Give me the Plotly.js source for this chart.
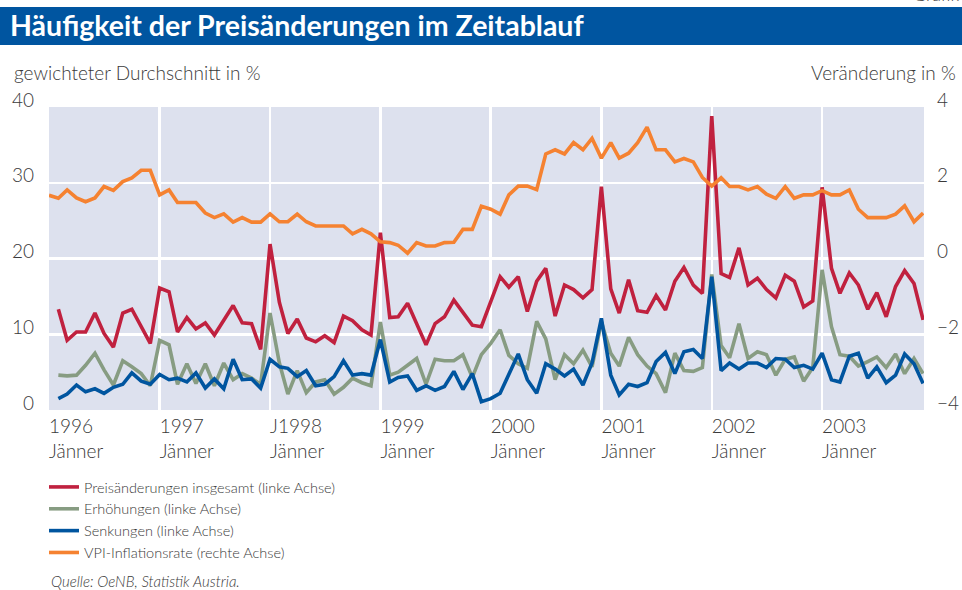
<!DOCTYPE html>
<html>
<head>
<meta charset="utf-8">
<script src="https://cdn.plot.ly/plotly-3.0.1.min.js"></script>
<style>
html,body{margin:0;padding:0;background:#fff;}
#chart{width:962px;height:590px;}
</style>
</head>
<body>
<div id="chart"></div>
<script>
// Monthly series, January 1996 (index 0) to December 2003 (index 95)
var startYear = 1996;
var nMonths = 96;

// VPI-Inflationsrate (rechte Achse), Jan 1996 - Dez 2003
var vpiInflation = [
  1.67, 1.59, 1.81, 1.60, 1.50, 1.60, 1.90, 1.80, 2.03, 2.13, 2.33, 2.33,
  1.68, 1.81, 1.48, 1.48, 1.48, 1.20, 1.08, 1.18, 0.96, 1.08, 0.96, 0.96,
  1.18, 0.97, 0.97, 1.17, 0.97, 0.86, 0.86, 0.86, 0.86, 0.65, 0.77, 0.65,
  0.44, 0.42, 0.35, 0.14, 0.42, 0.33, 0.33, 0.42, 0.43, 0.77, 0.77, 1.38,
  1.30, 1.17, 1.68, 1.91, 1.91, 1.82, 2.76, 2.87, 2.76, 3.06, 2.87, 3.17,
  2.65, 3.06, 2.65, 2.78, 3.06, 3.47, 2.87, 2.87, 2.55, 2.64, 2.55, 2.14,
  1.91, 2.13, 1.90, 1.90, 1.81, 1.90, 1.70, 1.59, 1.90, 1.59, 1.68, 1.68,
  1.79, 1.68, 1.68, 1.81, 1.30, 1.08, 1.08, 1.08, 1.17, 1.39, 0.97, 1.20
];

// Preisänderungen insgesamt (linke Achse), from Feb 1996
var preisInsgesamt = [
  null, 13.3, 9.2, 10.3, 10.3, 12.8, 10.1, 8.3, 12.8, 13.3, 11.0, 8.8,
  16.1, 15.6, 10.3, 12.2, 10.7, 11.5, 9.9, 11.8, 13.8, 11.5, 11.4, 8.0,
  21.9, 14.2, 10.1, 12.0, 9.5, 9.0, 9.8, 8.9, 12.4, 11.8, 10.6, 9.9,
  23.4, 12.2, 12.3, 14.1, 11.5, 8.6, 11.4, 12.3, 14.5, 12.9, 11.2, 11.0,
  14.3, 17.6, 16.2, 17.6, 13.0, 17.0, 18.7, 12.4, 16.5, 15.9, 14.8, 15.9,
  29.5, 16.0, 12.8, 17.2, 13.1, 12.9, 15.1, 13.2, 17.0, 18.8, 16.5, 15.4,
  38.8, 18.0, 17.5, 21.4, 16.5, 17.4, 15.9, 14.8, 17.8, 17.0, 13.6, 14.4,
  29.4, 18.7, 15.4, 18.1, 16.5, 13.3, 15.5, 12.3, 16.3, 18.4, 16.7, 11.9
];

// Erhöhungen (linke Achse)
var erhoehungen = [
  null, 4.6, 4.5, 4.6, 5.9, 7.5, 5.3, 3.3, 6.5, 5.7, 4.8, 3.2,
  9.2, 8.6, 3.4, 6.1, 3.5, 6.1, 3.2, 6.2, 4.0, 4.8, 4.2, 3.4,
  12.8, 6.2, 2.1, 5.2, 2.3, 3.7, 4.0, 2.1, 3.0, 4.2, 3.6, 3.2,
  11.6, 4.6, 5.0, 5.9, 6.8, 3.4, 6.7, 6.5, 6.5, 7.3, 4.3, 7.3,
  8.8, 10.6, 7.2, 6.1, 5.5, 11.7, 9.4, 4.0, 7.3, 6.1, 7.9, 5.7,
  11.6, 7.5, 5.8, 9.6, 7.3, 5.8, 4.8, 2.3, 7.5, 5.2, 5.1, 5.6,
  17.9, 8.5, 6.9, 11.4, 6.8, 7.7, 7.3, 4.6, 6.7, 7.0, 3.8, 5.6,
  18.5, 11.0, 7.3, 7.1, 5.8, 6.4, 7.0, 5.6, 7.4, 4.8, 6.8, 4.8
];

// Senkungen (linke Achse)
var senkungen = [
  null, 1.5, 2.1, 3.3, 2.4, 2.8, 2.2, 3.0, 3.4, 4.9, 3.8, 3.4,
  4.7, 4.0, 4.2, 3.7, 4.9, 2.9, 4.1, 2.8, 6.7, 4.0, 4.1, 2.9,
  6.7, 5.7, 5.5, 4.4, 5.2, 3.2, 3.4, 4.4, 6.5, 4.6, 4.8, 4.6,
  9.3, 3.7, 4.3, 4.5, 2.6, 3.2, 2.6, 3.1, 5.1, 2.7, 4.8, 1.1,
  1.5, 2.2, 4.8, 7.4, 4.0, 2.2, 6.1, 5.4, 4.5, 5.4, 3.3, 6.2,
  12.1, 4.6, 2.0, 3.4, 3.1, 3.6, 6.4, 7.6, 4.8, 7.7, 8.0, 6.8,
  17.6, 5.2, 6.2, 5.4, 6.2, 6.2, 5.6, 6.8, 6.7, 5.6, 5.9, 5.4,
  7.5, 4.0, 3.7, 7.1, 7.5, 4.2, 5.7, 3.6, 4.6, 7.4, 6.1, 3.5
];

var tickYears = ["1996", "1997", "J1998", "1999", "2000", "2001", "2002", "2003"];
var tickMonth = "Jänner";
var seriesNames = [
  "Preisänderungen insgesamt (linke Achse)",
  "Erhöhungen (linke Achse)",
  "Senkungen (linke Achse)",
  "VPI-Inflationsrate (rechte Achse)"
];

function pad(n){return n < 10 ? "0" + n : "" + n;}
var months = [];
for (var i = 0; i < nMonths; i++) {
  var y = startYear + Math.floor(i / 12);
  months.push(y + "-" + pad(i % 12 + 1) + "-01");
}
var tickVals = [], tickText = [];
for (var k = 0; k < tickYears.length; k++) {
  tickVals.push((startYear + k) + "-01-01");
  tickText.push(tickYears[k] + "<br>" + tickMonth);
}

var FONT = "Lato, 'Open Sans', 'DejaVu Sans', sans-serif";
var TXT = "#3a3a3a";
var LW = 3.6;

var traces = [
  {x: months, y: vpiInflation, name: seriesNames[3], yaxis: "y2", type: "scatter", mode: "lines",
   line: {color: "#f58231", width: LW}, legendrank: 4},
  {x: months, y: erhoehungen, name: seriesNames[1], type: "scatter", mode: "lines",
   line: {color: "#879c82", width: LW}, legendrank: 2},
  {x: months, y: senkungen, name: seriesNames[2], type: "scatter", mode: "lines",
   line: {color: "#00559f", width: LW}, legendrank: 3},
  {x: months, y: preisInsgesamt, name: seriesNames[0], type: "scatter", mode: "lines",
   line: {color: "#c0213f", width: LW}, legendrank: 1}
];

var L = 49, R = 38, T = 107, B = 180;
var W = 962, H = 590;
var pw = W - L - R, ph = H - T - B;
function px(x){return (x - L) / pw;}
function py(y){return (H - B - y) / ph;}

var layout = {
  width: W, height: H,
  margin: {l: L, r: R, t: T, b: B, pad: 0},
  paper_bgcolor: "#ffffff",
  plot_bgcolor: "#dde1ee",
  font: {family: FONT, color: TXT, size: 18, weight: 300},
  showlegend: true,
  title: {
    text: "<b>Häufigkeit der Preisänderungen im Zeitablauf</b>",
    font: {family: FONT, size: 28.5, color: "#ffffff"},
    x: 10 / W, xanchor: "left", xref: "container",
    y: 1 - 26 / H, yanchor: "middle", yref: "container"
  },
  xaxis: {
    type: "date",
    range: ["1996-01-01", "2003-12-04"],
    tickmode: "array", tickvals: tickVals, ticktext: tickText,
    ticks: "", ticklen: 0,
    ticklabelposition: "outside right",
    ticklabelstandoff: 3,
    tickfont: {family: FONT, size: 19, color: TXT, weight: 300},
    showgrid: true, gridcolor: "#ffffff", gridwidth: 2.5,
    showline: false, zeroline: false, fixedrange: true
  },
  yaxis: {
    range: [0, 40], tickvals: [0, 10, 20, 30, 40],
    ticks: "", showgrid: true, gridcolor: "#ffffff", gridwidth: 2.5,
    zeroline: false, showline: false,
    tickfont: {family: FONT, size: 19, color: TXT, weight: 300},
    ticklabelstandoff: 14, ticklabelshift: -7, fixedrange: true
  },
  yaxis2: {
    range: [-4, 4], tickvals: [-4, -2, 0, 2, 4],
    overlaying: "y", side: "right",
    ticks: "", showgrid: false, zeroline: false, showline: false,
    tickfont: {family: FONT, size: 19, color: TXT, weight: 300},
    ticklabelstandoff: 12, ticklabelshift: -7, fixedrange: true
  },
  legend: {
    orientation: "v",
    x: px(44), xanchor: "left",
    y: py(471), yanchor: "top",
    font: {family: FONT, size: 14.5, color: TXT, weight: 300},
    bgcolor: "rgba(0,0,0,0)", borderwidth: 0,
    itemwidth: 30, tracegroupgap: 0,
    traceorder: "normal"
  },
  shapes: [
    {type: "rect", xref: "paper", yref: "paper", x0: px(0), x1: px(W), y0: py(45), y1: py(7),
     fillcolor: "#0055a0", line: {width: 0}, layer: "below"}
  ],
  annotations: [
    {text: "gewichteter Durchschnitt in %", xref: "paper", yref: "paper",
     x: px(12), xanchor: "left", y: py(72), yanchor: "middle", showarrow: false,
     font: {family: FONT, size: 19, color: TXT, weight: 300}},
    {text: "Veränderung in %", xref: "paper", yref: "paper",
     x: px(958), xanchor: "right", y: py(72), yanchor: "middle", showarrow: false,
     font: {family: FONT, size: 19, color: TXT, weight: 300}},
    {text: "Grafik", xref: "paper", yref: "paper",
     x: px(962), xanchor: "right", y: py(-6), yanchor: "middle", showarrow: false,
     font: {family: FONT, size: 18, color: TXT, weight: 300}},
    {text: "<i>Quelle: OeNB, Statistik Austria.</i>", xref: "paper", yref: "paper",
     x: px(49), xanchor: "left", y: py(581), yanchor: "middle", showarrow: false,
     font: {family: FONT, size: 15, color: TXT, weight: 300}}
  ]
};

Plotly.newPlot("chart", traces, layout, {displayModeBar: false, staticPlot: true});
</script>
</body>
</html>
